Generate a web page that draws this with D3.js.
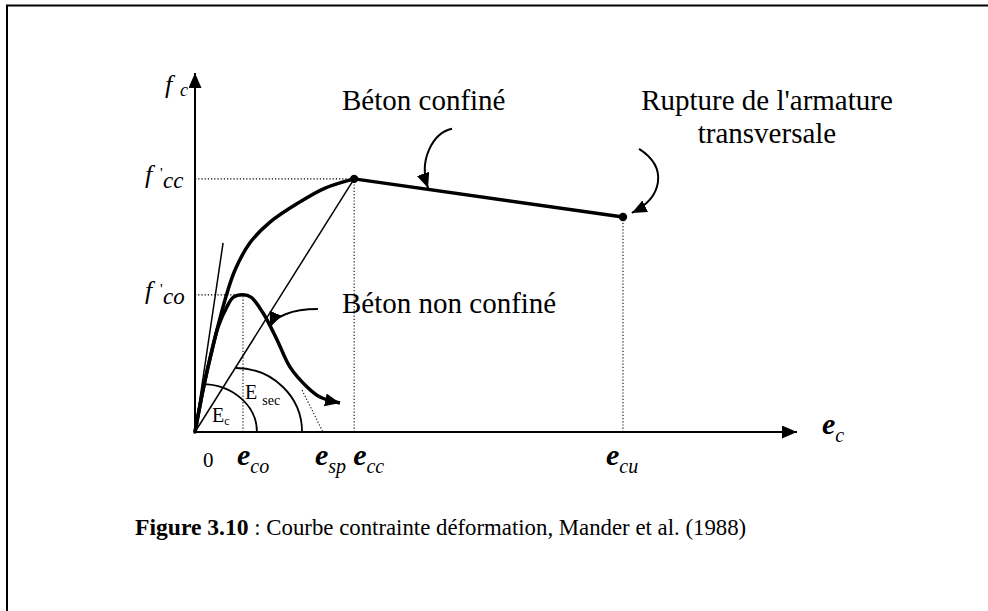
<!DOCTYPE html>
<html>
<head>
<meta charset="utf-8">
<script src="https://cdn.jsdelivr.net/npm/d3@7"></script>
<style>
  html, body { margin: 0; padding: 0; background: #fff; }
  svg { display: block; }
  text { font-family: "Liberation Serif", "Times New Roman", serif; fill: #000; }
</style>
</head>
<body>
<svg id="chart" width="988" height="611"></svg>
<script>
// Strain in ‰, stress in MPa (schematic Mander et al. 1988 model)
const strainTickNames = ["co", "sp", "cc", "cu"];
const strainTickValues = [2.0, 5.33, 6.63, 17.83];
const stressTickNames = ["cc", "co"];
const stressTickValues = [55, 29.8];

// Confined concrete, ascending branch up to the peak (ε_cc, f'cc)
const confinedStrain = [0, 0.375, 0.708, 1.25, 1.667, 2.29, 3.125, 4.375, 5.42, 6.63];
const confinedStress = [0, 10.2, 17.8, 28.7, 35.2, 41.1, 45.6, 50.0, 53.0, 55];
// Confined concrete, post-peak branch up to hoop fracture (ε_cu)
const confinedTailStrain = [6.63, 17.83];
const confinedTailStress = [55, 46.7];

// Unconfined concrete
const unconfinedStrain = [0, 0.375, 0.708, 0.958, 1.33, 1.6, 2.0, 2.33, 2.83, 3.42, 3.96, 4.67, 5.21, 6.04];
const unconfinedStress = [0, 10.2, 17.8, 22.8, 27.2, 29.3, 29.8, 29.3, 25.9, 20, 14.1, 9.8, 7.6, 6.3];

// Initial tangent modulus E_c and secant modulus E_sec
const tangentStrain = [0, 1.17];
const tangentStress = [0, 41.1];
const secantStrain = [0, 6.63];
const secantStress = [0, 55];
// Linear extension of the unconfined softening branch down to ε_sp
const spallStrain = [4.46, 5.33];
const spallStress = [9.1, 0];

const svg = d3.select("#chart");

const x = d3.scaleLinear().domain([0, 25.08]).range([195, 797]);
const y = d3.scaleLinear().domain([0, 78]).range([432, 73]);

const zip = (a, b) => a.map((v, i) => [v, b[i]]);
const line = d3.line().x(d => x(d[0])).y(d => y(d[1]));
const smooth = d3.line().x(d => x(d[0])).y(d => y(d[1])).curve(d3.curveCatmullRom.alpha(0.5));

// Frame
svg.append("rect").attr("x", 7).attr("y", 5.5).attr("width", 1000).attr("height", 700)
  .attr("fill", "none").attr("stroke", "#000").attr("stroke-width", 2);

// Arrowhead marker
const defs = svg.append("defs");
defs.append("marker").attr("id", "head")
  .attr("markerUnits", "userSpaceOnUse")
  .attr("markerWidth", 16).attr("markerHeight", 14)
  .attr("refX", 15).attr("refY", 6.5).attr("orient", "auto")
  .append("path").attr("d", "M0,0 L15,6.5 L0,13 Z").attr("fill", "#000");

// Axes
svg.append("line").attr("x1", x(0)).attr("y1", y(0)).attr("x2", x(0)).attr("y2", y(78))
  .attr("stroke", "#000").attr("stroke-width", 2).attr("marker-end", "url(#head)");
svg.append("line").attr("x1", x(0)).attr("y1", y(0)).attr("x2", x(25.08)).attr("y2", y(0))
  .attr("stroke", "#000").attr("stroke-width", 2).attr("marker-end", "url(#head)");

// Dotted guides
const dotted = (x1, y1, x2, y2) => svg.append("line")
  .attr("x1", x(x1)).attr("y1", y(y1)).attr("x2", x(x2)).attr("y2", y(y2))
  .attr("stroke", "#000").attr("stroke-width", 1.1).attr("stroke-dasharray", "1.2,2");

dotted(0, confinedStress[confinedStress.length - 1], confinedStrain[confinedStrain.length - 1], confinedStress[confinedStress.length - 1]);
dotted(0, stressTickValues[1], strainTickValues[0], stressTickValues[1]);
dotted(strainTickValues[0], 0, strainTickValues[0], stressTickValues[1]);
dotted(strainTickValues[2], 0, strainTickValues[2], stressTickValues[0]);
dotted(strainTickValues[3], 0, strainTickValues[3], confinedTailStress[1]);
dotted(spallStrain[0], spallStress[0], spallStrain[1], spallStress[1]);

// Modulus lines
svg.append("path").attr("d", line(zip(tangentStrain, tangentStress)))
  .attr("fill", "none").attr("stroke", "#000").attr("stroke-width", 1.5);
svg.append("path").attr("d", line(zip(secantStrain, secantStress)))
  .attr("fill", "none").attr("stroke", "#000").attr("stroke-width", 1.5);

// Modulus arcs (quarter ellipses on the strain axis)
const arcs = [
  { cx: 0.29, rx: 2.29, ry: 10.4 },
  { cx: 1.71, rx: 2.75, ry: 13.9 }
];
arcs.forEach(a => {
  const sx = x(a.cx), sy = y(a.ry);
  const ex = x(a.cx + a.rx), ey = y(0);
  const rxp = x(a.cx + a.rx) - x(a.cx), ryp = y(0) - y(a.ry);
  svg.append("path")
    .attr("d", `M${sx},${sy} A${rxp},${ryp} 0 0 1 ${ex},${ey}`)
    .attr("fill", "none").attr("stroke", "#000").attr("stroke-width", 1.8);
});

// Stress-strain curves
svg.append("path").attr("d", smooth(zip(confinedStrain, confinedStress)))
  .attr("fill", "none").attr("stroke", "#000").attr("stroke-width", 3.5).attr("stroke-linecap", "round");
svg.append("path").attr("d", line(zip(confinedTailStrain, confinedTailStress)))
  .attr("fill", "none").attr("stroke", "#000").attr("stroke-width", 3.5).attr("stroke-linecap", "round");
svg.append("path").attr("d", smooth(zip(unconfinedStrain, unconfinedStress)))
  .attr("fill", "none").attr("stroke", "#000").attr("stroke-width", 3.5)
  .attr("marker-end", "url(#head)");

// Peak and ultimate points
svg.selectAll("circle.pt").data(zip(confinedTailStrain, confinedTailStress)).enter()
  .append("circle").attr("class", "pt")
  .attr("cx", d => x(d[0])).attr("cy", d => y(d[1])).attr("r", 4.2).attr("fill", "#000");

// Callout arrows (anchors in strain/stress units)
const callouts = [
  [[10.71, 65.9], [9.9, 65.0], [9.3, 59.0], [9.71, 53.0]],
  [[5.12, 26.7], [4.0, 26.7], [3.3, 25.0], [3.125, 22.8]],
  [[18.5, 61.5], [19.7, 57.5], [19.5, 51.0], [18.2, 47.6]]
];
callouts.forEach(c => {
  svg.append("path")
    .attr("d", `M${x(c[0][0])},${y(c[0][1])} C${x(c[1][0])},${y(c[1][1])} ${x(c[2][0])},${y(c[2][1])} ${x(c[3][0])},${y(c[3][1])}`)
    .attr("fill", "none").attr("stroke", "#000").attr("stroke-width", 2)
    .attr("marker-end", "url(#head)");
});

// Strain-axis labels
const eLabel = (xs, ys, sub, eSize, subSize, dy) => {
  const t = svg.append("text").attr("x", xs).attr("y", ys);
  t.append("tspan").attr("font-weight", "bold").attr("font-style", "italic")
    .attr("font-size", eSize).text("e");
  t.append("tspan").attr("font-style", "italic").attr("font-size", subSize)
    .attr("dy", dy).text(sub);
};
svg.append("text").attr("x", x(0) + 8).attr("y", 467).attr("font-size", 21).text("0");
const eOffsets = [-6, -8, -1, -17];
strainTickNames.forEach((n, i) => eLabel(x(strainTickValues[i]) + eOffsets[i], 465, n, 30, 20, 8));
eLabel(822, 434, "c", 30, 20, 8);

// Stress-axis labels: italic f, prime and subscript
const fLabel = (xs, ys, sub, prime) => {
  svg.append("text").attr("x", xs).attr("y", ys)
    .attr("font-style", "italic").attr("font-size", 26).text("f");
  if (prime) {
    svg.append("text").attr("x", xs + 15).attr("y", ys - 5)
      .attr("font-size", 15).text("'");
    svg.append("text").attr("x", xs + 18).attr("y", ys + 5)
      .attr("font-style", "italic").attr("font-size", 23).text(sub);
  } else {
    svg.append("text").attr("x", xs + 15).attr("y", ys + 3)
      .attr("font-style", "italic").attr("font-size", 18).text(sub);
  }
};
fLabel(165, 93, "c", false);
stressTickNames.forEach((n, i) => fLabel(145, y(stressTickValues[i]) + 4, n, true));

// Modulus labels
const eModulus = (xs, ys, sub, subSize, dx, dy) => {
  const t = svg.append("text").attr("x", xs).attr("y", ys);
  t.append("tspan").attr("font-size", 20).text("E");
  t.append("tspan").attr("font-size", subSize).attr("dx", dx).attr("dy", dy).text(sub);
};
eModulus(212, 422, "c", 12, 0, 3);
eModulus(245, 399, "sec", 14, 5, 6);

// Curve labels
svg.append("text").attr("x", 342).attr("y", 110).attr("font-size", 29).text("Béton confiné");
svg.append("text").attr("x", 342).attr("y", 313).attr("font-size", 29).text("Béton non confiné");
svg.append("text").attr("x", 767).attr("y", 110).attr("font-size", 29).attr("text-anchor", "middle").text("Rupture de l'armature");
svg.append("text").attr("x", 767).attr("y", 143).attr("font-size", 29).attr("text-anchor", "middle").text("transversale");

// Caption
const cap = svg.append("text").attr("x", 135).attr("y", 535);
cap.append("tspan").attr("font-weight", "bold").attr("font-size", 23.6).text("Figure 3.10");
cap.append("tspan").attr("font-size", 22.8).text(" : Courbe contrainte déformation, Mander et al. (1988)");
</script>
</body>
</html>
